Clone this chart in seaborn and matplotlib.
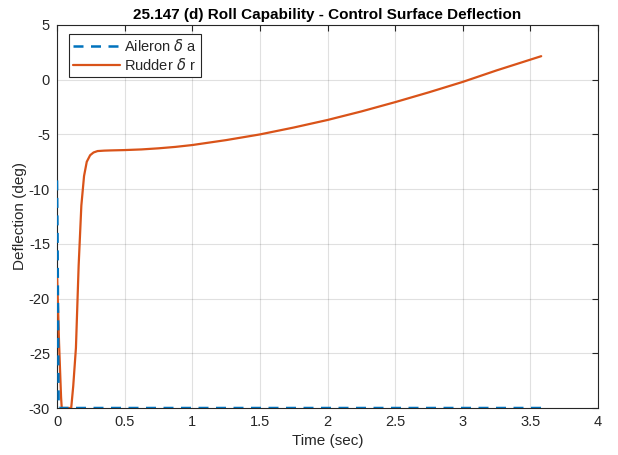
import numpy as np
import pandas as pd
import matplotlib
matplotlib.use("Agg")
import matplotlib.pyplot as plt
import seaborn as sns

# Data
aileron_t = [0.0, 0.004, 0.008, 0.012, 0.02, 0.5, 1.0, 1.5, 2.0, 2.5, 3.0, 3.58]
aileron_v = [-9.2, -14.0, -22.0, -30.0, -30.0, -30.0, -30.0, -30.0, -30.0, -30.0, -30.0, -30.0]

rudder_t = [0.0, 0.015, 0.03, 0.035, 0.105, 0.12, 0.14, 0.16, 0.18, 0.2, 0.22, 0.245, 0.27, 0.3, 0.35, 0.4,
            0.5, 0.625, 0.75, 0.875, 1.0, 1.25, 1.5, 1.75, 2.0, 2.25, 2.5, 2.75, 3.0, 3.25, 3.58]
rudder_v = [-17.5, -24.0, -29.0, -30.0, -30.0, -28.0, -24.5, -17.0, -11.5, -8.8, -7.5, -6.9, -6.65, -6.52, -6.48, -6.46,
            -6.43, -6.37, -6.27, -6.14, -5.97, -5.52, -5.0, -4.37, -3.68, -2.9, -2.05, -1.15, -0.2, 0.85, 2.15]

sns.set_theme(style="white")
plt.rcParams['font.family'] = ['Liberation Sans', 'DejaVu Sans']
plt.rcParams['mathtext.fontset'] = 'dejavusans'
plt.rcParams['axes.unicode_minus'] = False

AIL = "Aileron $\\delta$ a"
RUD = "Rudder $\\delta$ r"
df = pd.concat([
    pd.DataFrame({"t": aileron_t, "v": aileron_v, "s": AIL}),
    pd.DataFrame({"t": rudder_t, "v": rudder_v, "s": RUD}),
])

fig = plt.figure(figsize=(6.18, 4.55), dpi=100)
ax = fig.add_axes([57/618, 1-408/455, (598-57)/618, (408-25)/455])

palette = {AIL: "#0072BD", RUD: "#D95319"}
sns.lineplot(data=df[df.s == RUD], x="t", y="v", color=palette[RUD],
             lw=1.6, ax=ax, label=RUD, zorder=3)
sns.lineplot(data=df[df.s == AIL], x="t", y="v", color=palette[AIL],
             lw=1.8, ls=(0, (4, 3)), ax=ax, label=AIL, zorder=4)

ax.set_xlim(0, 4)
ax.set_ylim(-30, 5)
ax.set_xticks(np.arange(0, 4.01, 0.5))
ax.set_xticklabels(["0", "0.5", "1", "1.5", "2", "2.5", "3", "3.5", "4"])
ax.set_yticks(np.arange(-30, 5.1, 5))
ax.grid(True, color="#000000", alpha=0.12, lw=0.8)
ax.tick_params(direction="in", length=4, width=0.8, colors="#262626", labelsize=10.5,
               top=True, right=True, labelcolor="#262626")
ax.tick_params(axis="x", pad=5)
ax.tick_params(axis="y", pad=5)
for sp in ax.spines.values():
    sp.set_color("#262626")
    sp.set_linewidth(0.8)
    sp.set_visible(True)

ax.set_xlabel("Time (sec)", fontsize=11, color="#262626", labelpad=4)
ax.set_ylabel("Deflection (deg)", fontsize=11, color="#262626", labelpad=1)
ax.set_title("25.147 (d) Roll Capability - Control Surface Deflection", fontsize=11, fontweight="bold",
             color="#000000", pad=4)

h, l = ax.get_legend_handles_labels()
order = [l.index(AIL), l.index(RUD)]
leg = ax.legend([h[i] for i in order], [l[i] for i in order], loc="upper left",
                bbox_to_anchor=(0.022, 0.977), fontsize=10.5, frameon=True, fancybox=False,
                borderpad=0.3, handlelength=3.2, handletextpad=0.3, labelspacing=0.2, borderaxespad=0)
leg.get_frame().set_edgecolor("#262626")
leg.get_frame().set_linewidth(0.8)
leg.get_frame().set_alpha(1)

fig.savefig("out.png", dpi=100)
